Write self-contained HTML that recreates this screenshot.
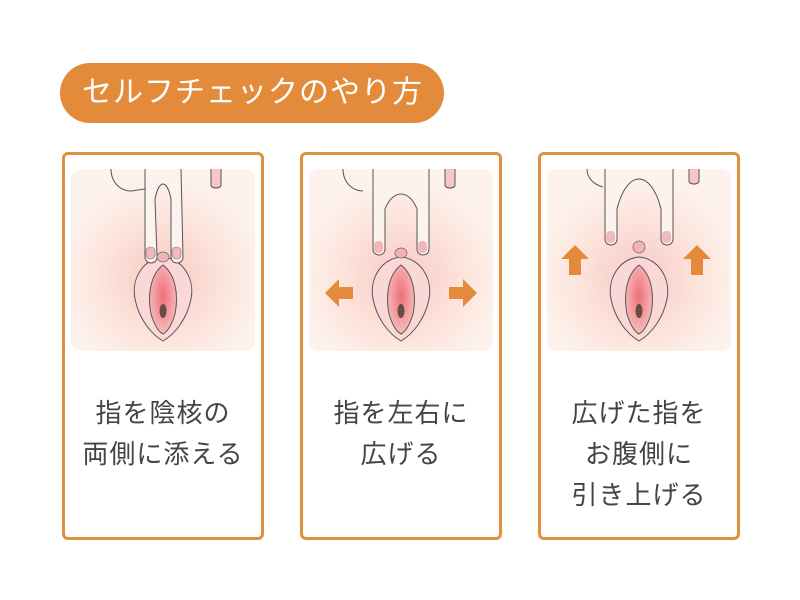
<!DOCTYPE html>
<html><head><meta charset="utf-8"><style>
body{margin:0;width:800px;height:600px;background:#fff;position:relative;font-family:"Liberation Sans","Noto Sans CJK JP",sans-serif;overflow:hidden}
.pill{position:absolute;left:60px;top:63px;width:384px;height:60px;border-radius:30px;background:#e38b3a;color:#fff;font-size:30px;line-height:60px;text-indent:22px;letter-spacing:1px}
.card{position:absolute;top:152px;width:196px;height:382px;border:3px solid #e0913f;border-radius:6px;background:#fff}
.card svg{position:absolute;left:6px;top:14px}
.txt{position:absolute;left:0;right:0;top:238px;text-align:center;font-size:26px;line-height:41px;color:#444;letter-spacing:1px}
</style></head><body>
<div class="pill">セルフチェックのやり方</div>

<svg width="0" height="0" style="position:absolute"><defs>
<radialGradient id="g" cx="50%" cy="60%" r="55%"><stop offset="0" stop-color="#f9c8c2"/><stop offset="0.6" stop-color="#fce4dc"/><stop offset="1" stop-color="#fdf2ec"/></radialGradient>
<radialGradient id="c" cx="50%" cy="45%" r="60%"><stop offset="0" stop-color="#ee6f78"/><stop offset="1" stop-color="#f8c3c3"/></radialGradient>
<g id="body">
<rect x="0" y="0" width="184" height="182" rx="10" fill="url(#g)"/>
<path d="M92 88 C72 90 60 110 64 130 C68 150 80 165 92 172 C104 165 116 150 120 130 C124 110 112 90 92 88Z" fill="#fbd8d8" stroke="#555" stroke-width="1"/>
<path d="M92 96 C80 105 76 125 80 145 C84 158 88 163 92 165 C96 163 100 158 104 145 C108 125 104 105 92 96Z" fill="url(#c)" stroke="#555" stroke-width="1"/>
<ellipse cx="92" cy="142" rx="3.5" ry="7" fill="#6a4a45"/>
</g>
</defs></svg>

<div class="card" style="left:62px">
<svg width="184" height="182"><use href="#body"/>
<path d="M74 0 L74 88 C74 96 86 96 86 88 L84 30 C88 10 96 10 100 30 L100 88 C100 96 112 96 112 88 L110 0" fill="#fdf3ee" stroke="#555" stroke-width="1"/>
<path d="M40 0 C40 14 50 22 60 22 L74 20" fill="none" stroke="#555" stroke-width="1"/>
<path d="M140 0 L140 16 C140 20 150 20 150 16 L150 0" fill="#f5c6c4" stroke="#555" stroke-width="1"/>
<rect x="75" y="78" width="9" height="12" rx="4" fill="#f0b8bc" stroke="#777" stroke-width=".6"/>
<rect x="101" y="78" width="9" height="12" rx="4" fill="#f0b8bc" stroke="#777" stroke-width=".6"/>
<ellipse cx="92" cy="88" rx="6" ry="5" fill="#f2b3b8" stroke="#666" stroke-width=".7"/>
</svg>
<div class="txt">指を陰核の<br>両側に添える</div></div>

<div class="card" style="left:300px">
<svg width="184" height="182"><use href="#body"/>
<path d="M64 0 L64 80 C64 88 76 88 76 80 L76 40 C84 20 100 20 108 40 L108 80 C108 88 120 88 120 80 L120 0" fill="#fdf3ee" stroke="#555" stroke-width="1"/>
<path d="M34 0 C34 14 44 22 54 22" fill="none" stroke="#555" stroke-width="1"/>
<path d="M136 0 L136 16 C136 20 146 20 146 16 L146 0" fill="#f5c6c4" stroke="#555" stroke-width="1"/>
<rect x="65" y="72" width="9" height="12" rx="4" fill="#f0b8bc"/><rect x="109" y="72" width="9" height="12" rx="4" fill="#f0b8bc"/>
<ellipse cx="92" cy="84" rx="6" ry="5" fill="#f2b3b8" stroke="#666" stroke-width=".7"/>
<path d="M16 124 L30 110 L30 118 L44 118 L44 130 L30 130 L30 138Z" fill="#e38b3a"/>
<path d="M168 124 L154 110 L154 118 L140 118 L140 130 L154 130 L154 138Z" fill="#e38b3a"/>
</svg>
<div class="txt">指を左右に<br>広げる</div></div>

<div class="card" style="left:538px">
<svg width="184" height="182"><use href="#body"/>
<path d="M58 0 L58 70 C58 78 70 78 70 70 L70 40 C80 0 104 0 114 40 L114 70 C114 78 126 78 126 70 L126 0" fill="#fdf3ee" stroke="#555" stroke-width="1"/>
<path d="M40 0 C40 10 48 16 56 18" fill="none" stroke="#555" stroke-width="1"/>
<path d="M142 0 L142 12 C142 16 152 16 152 12 L152 0" fill="#f5c6c4" stroke="#555" stroke-width="1"/>
<rect x="59" y="62" width="9" height="12" rx="4" fill="#f0b8bc"/><rect x="115" y="62" width="9" height="12" rx="4" fill="#f0b8bc"/>
<ellipse cx="92" cy="78" rx="6" ry="6" fill="#f2b3b8" stroke="#666" stroke-width=".7"/>
<path d="M28 76 L14 90 L22 90 L22 106 L34 106 L34 90 L42 90Z" fill="#e38b3a"/>
<path d="M150 76 L136 90 L144 90 L144 106 L156 106 L156 90 L164 90Z" fill="#e38b3a"/>
</svg>
<div class="txt">広げた指を<br>お腹側に<br>引き上げる</div></div>
</body></html>
